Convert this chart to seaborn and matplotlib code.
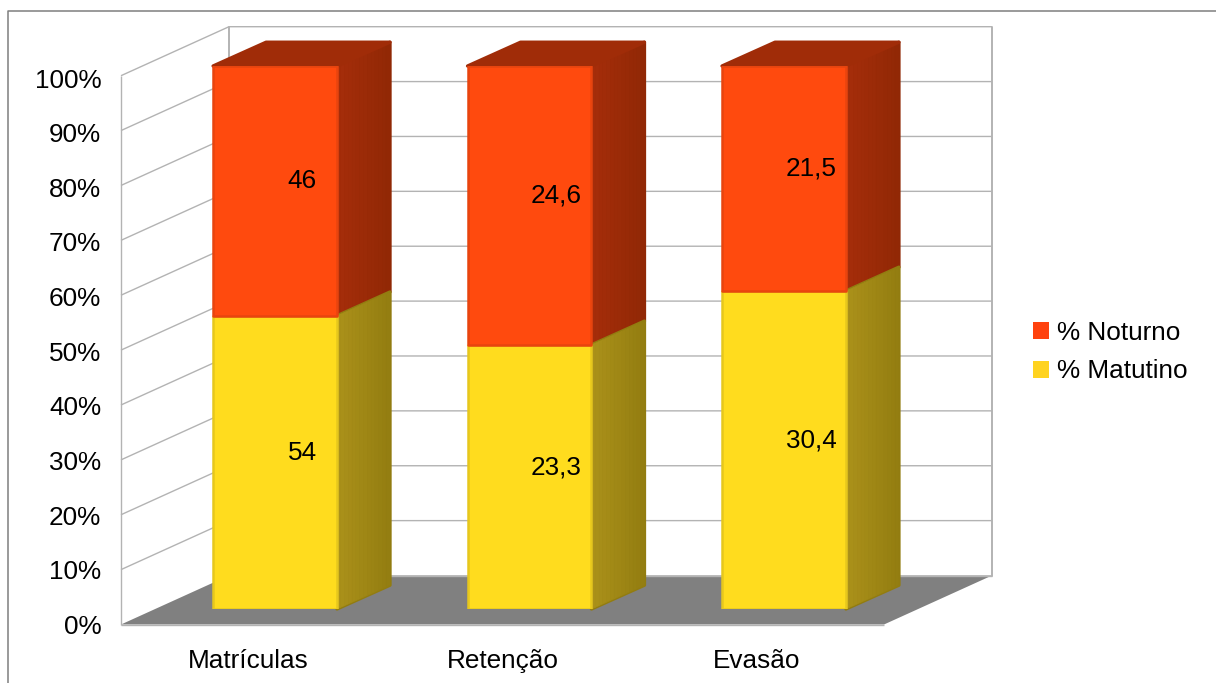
import numpy as np
import matplotlib
matplotlib.use("Agg")
import matplotlib.pyplot as plt
from matplotlib.lines import Line2D
from matplotlib.patches import Patch
import seaborn as sns

categories = ["Matrículas", "Retenção", "Evasão"]
matutino = [54, 23.3, 30.4]
noturno = [46, 24.6, 21.5]
series_names = ["% Noturno", "% Matutino"]
y_ticks = [0, 10, 20, 30, 40, 50, 60, 70, 80, 90, 100]

W, H = 1216, 683
FS = 18.85
sns.set_theme(style="white")
plt.rcParams["font.family"] = ["Liberation Sans", "DejaVu Sans"]
plt.rcParams["text.color"] = "black"

GRID = "#b3b3b3"
FLOOR = "#808080"
STYLE = {
    "n": dict(face="#ff4a0e", edge="#e8440e", side=("#a52d0a", "#902805"), top="#a02c08", legend="#ff420e"),
    "m": dict(face="#ffdc1e", edge="#e6c71d", side=("#ab911a", "#927c10"), legend="#ffd320"),
}


def axes_box(left, right, top, bottom):
    return [left / W, 1 - bottom / H, (right - left) / W, (bottom - top) / H]


fig = plt.figure(figsize=(W / 100, H / 100), dpi=100, facecolor="white")

# outer chart frame: only the top and left edges are inside the picture
fig.add_artist(Line2D([8 / W, 8 / W, 1], [0, 1 - 10.5 / H, 1 - 10.5 / H], color="#7f7f7f", lw=1.1))

# front plane of the 3D box: carries the grid and the category labels
wall = fig.add_axes(axes_box(121, 884, 75.7, 624.5))
wall.set_xlim(-0.5, 2.5)
wall.set_ylim(0, 100)
wall.set_xticks(range(len(categories)), categories, fontsize=FS, color="black")
wall.set_yticks([])
wall.tick_params(axis="x", length=0, pad=31.5)
for t in wall.get_xticklabels():
    t.set_verticalalignment("baseline")
for s in wall.spines.values():
    s.set_visible(False)
wall.patch.set_visible(False)

# the percent labels run on a very slightly tighter scale than the grid
scale = fig.add_axes(axes_box(121, 884, 78, 624.5))
scale.set_ylim(0, 100)
scale.set_xticks([])
scale.set_yticks(y_ticks, [f"{t}%" for t in y_ticks], fontsize=FS, color="black")
scale.tick_params(axis="y", length=0, pad=14.2)
for s in scale.spines.values():
    s.set_visible(False)
scale.patch.set_visible(False)

ddx = 108 * 3 / 763      # box depth, in category units
ddy = 49 * 100 / 548.8   # box depth, in percent units
x0, x1 = -0.5, 2.5
wall.fill([x0, x1, x1 + ddx, x0 + ddx], [0, 0, ddy, ddy], color=FLOOR, lw=0, clip_on=False, zorder=1)
line = dict(color=GRID, lw=1.0, clip_on=False, zorder=2, solid_capstyle="butt")
for t in y_ticks[1:]:
    wall.plot([x0, x0 + ddx, x1 + ddx], [t, t + ddy, t + ddy], **line)
wall.plot([x0 + ddx, x1 + ddx], [ddy, ddy], **line)
wall.plot([x0, x0], [0, 100], **line)
wall.plot([x0 + ddx, x0 + ddx], [ddy, 100 + ddy], color=GRID, lw=1.4, clip_on=False, zorder=2)
wall.plot([x1 + ddx, x1 + ddx], [ddy, 100 + ddy], color=GRID, lw=1.4, clip_on=False, zorder=2)
wall.plot([x0, x1], [0, 0], **line)

# plane of the bars' front faces
bars = fig.add_axes(axes_box(147.8, 911.2, 66, 609), zorder=3)
bars.patch.set_visible(False)

totals = np.array(matutino) + np.array(noturno)
share_m = np.array(matutino) / totals * 100
share_n = np.array(noturno) / totals * 100

BAR_W = 0.487
common = dict(width=BAR_W, linewidth=1.8, joinstyle="round", ax=bars, zorder=3)
sns.barplot(x=categories, y=share_m, color=STYLE["m"]["face"], saturation=1,
            edgecolor=STYLE["m"]["edge"], **common)
sns.barplot(x=categories, y=share_n, bottom=share_m, color=STYLE["n"]["face"], saturation=1,
            edgecolor=STYLE["n"]["edge"], **common)
bars.set_xlim(-0.5, 2.5)
bars.set_ylim(0, 100)
bars.axis("off")

sdx = 53 * 3 / 763.4     # bar depth, in category units
sdy = 23.8 * 100 / 543   # bar depth, in percent units


def mix(a, b, f):
    ca, cb = np.array(matplotlib.colors.to_rgb(a)), np.array(matplotlib.colors.to_rgb(b))
    return ca + (cb - ca) * f


def side(i, y0, y1, colors, z):
    r = i + BAR_W / 2
    n = 14
    # rounded outline behind the shaded strips
    bars.fill([r, r + sdx, r + sdx, r], [y0, y0 + sdy, y1 + sdy, y1], color=colors[1], lw=2.4,
              joinstyle="round", clip_on=False, zorder=z)
    for k in range(n):
        f0, f1 = k / n, (k + 1) / n
        bars.fill([r + sdx * f0, r + sdx * f1, r + sdx * f1, r + sdx * f0],
                  [y0 + sdy * f0, y0 + sdy * f1, y1 + sdy * f1, y1 + sdy * f0],
                  color=mix(colors[0], colors[1], f0), lw=0.4, clip_on=False, zorder=z + 0.01)


for i in range(len(categories)):
    side(i, share_m[i], 100, STYLE["n"]["side"], 1.0)
    side(i, 0, share_m[i], STYLE["m"]["side"], 1.1)
    l, r = i - BAR_W / 2, i + BAR_W / 2
    bars.fill([l, r, r + sdx, l + sdx], [100, 100, 100 + sdy, 100 + sdy], color=STYLE["n"]["top"],
              lw=2.4, joinstyle="round", clip_on=False, zorder=1.2)
    for y, v in ((share_m[i] / 2, matutino[i]), (share_m[i] + share_n[i] / 2, noturno[i])):
        bars.annotate(str(v).replace(".", ","), xy=(i, y), xytext=(27 * 0.72, 9.5 * 0.72),
                      textcoords="offset points", ha="center", va="center",
                      fontsize=FS, color="black", zorder=5)

handles = [Patch(facecolor=STYLE["n"]["legend"], edgecolor="none", label=series_names[0]),
           Patch(facecolor=STYLE["m"]["legend"], edgecolor="none", label=series_names[1])]
fig.legend(handles=handles, loc="center left", bbox_to_anchor=(1033 / W, 1 - 352 / H),
           frameon=False, fontsize=FS, handlelength=0.61, handleheight=0.61,
           handletextpad=0.31, labelspacing=0.56, borderpad=0, borderaxespad=0)

fig.savefig("out.png", dpi=100, facecolor="white")
